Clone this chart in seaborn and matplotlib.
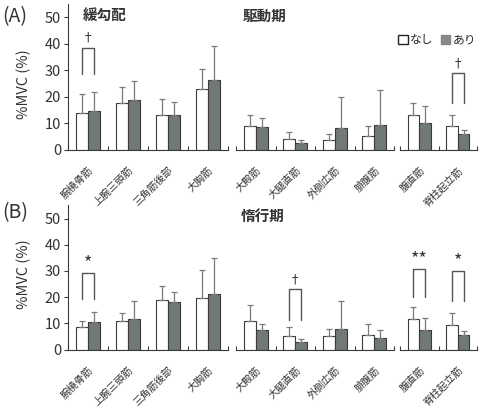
import numpy as np
import pandas as pd
import matplotlib
matplotlib.use('Agg')
import matplotlib.pyplot as plt
import matplotlib.transforms as mtrans
import seaborn as sns
from matplotlib.patches import Patch

sns.set_style('white')
plt.rcParams['font.family'] = ['Noto Sans CJK JP', 'DejaVu Sans']

# 筋の分類
upper = ['腕橈骨筋', '上腕三頭筋', '三角筋後部', '大胸筋']
lower = ['大殿筋', '大腿直筋', '外側広筋', '腓腹筋']
trunk = ['腹直筋', '脊柱起立筋']
muscles = upper + lower + trunk
conds = ['なし', 'あり']

# (A) 緩勾配 駆動期  平均と SD (%MVC)
a_nashi = [13.9, 17.6, 13.3, 22.8, 9.0, 4.1, 3.8, 5.3, 13.0, 9.1]
a_nashi_sd = [7.0, 6.2, 5.7, 7.8, 4.3, 2.5, 2.0, 3.8, 4.6, 4.2]
a_ari = [14.8, 18.6, 13.3, 26.2, 8.4, 2.5, 8.2, 9.5, 10.1, 5.9]
a_ari_sd = [7.1, 7.3, 4.7, 13.0, 3.6, 1.0, 11.7, 12.9, 6.4, 1.7]

# (B) 惰行期
b_nashi = [8.5, 10.7, 18.9, 19.8, 10.8, 5.2, 5.2, 5.7, 11.7, 9.4]
b_nashi_sd = [2.3, 3.3, 5.2, 10.6, 6.3, 3.3, 2.8, 4.1, 4.5, 4.5]
b_ari = [10.6, 11.7, 18.2, 21.3, 7.5, 2.9, 7.9, 4.5, 7.5, 5.4]
b_ari_sd = [3.8, 6.8, 3.9, 13.6, 2.3, 1.2, 10.5, 2.8, 4.4, 1.7]

# 有意差 (筋, 脚の下端, 上端, 記号)
a_sig = [('腕橈骨筋', 28.5, 38.5, '†'), ('脊柱起立筋', 17.7, 28.9, '†')]
b_sig = [('腕橈骨筋', 19.1, 29.2, '*'), ('大腿直筋', 11.2, 23.0, '†'),
         ('腹直筋', 20.2, 30.6, '**'), ('脊柱起立筋', 18.5, 30.1, '*')]

gray = '#6e7b78'
edge = '#3a3a3a'
txt = '#333333'


def make_df(nashi, nashi_sd, ari, ari_sd):
    rows = []
    for i, m in enumerate(muscles):
        rows.append((m, 'なし', nashi[i], nashi_sd[i]))
        rows.append((m, 'あり', ari[i], ari_sd[i]))
    return pd.DataFrame(rows, columns=['muscle', 'cond', 'value', 'sd'])


fig = plt.figure(figsize=(4.84, 4.11), dpi=100)
W, H = 484.0, 411.0
xs = [(68, 228), (236, 394), (400, 477)]
rows_px = [(4.2, 149.7), (205.4, 349.5)]
groups = [upper, lower, trunk]
shift = mtrans.ScaledTranslation(5 / 100, 0, fig.dpi_scale_trans)


def panel(df, sig, top, bottom):
    axes = []
    for k, (grp, (x0, x1)) in enumerate(zip(groups, xs)):
        ax = fig.add_axes([x0 / W, 1 - bottom / H, (x1 - x0) / W, (bottom - top) / H])
        sub = df[df.muscle.isin(grp)]
        sns.barplot(data=sub, x='muscle', y='value', hue='cond', order=grp,
                    hue_order=conds, palette={'なし': 'white', 'あり': gray},
                    edgecolor=edge, linewidth=0.8, width=0.6, errorbar=None,
                    legend=False, ax=ax)
        for j, c in enumerate(conds):
            s = sub[sub.cond == c].set_index('muscle').loc[grp]
            xpos = np.arange(len(grp)) + (-0.15 if j == 0 else 0.15)
            ax.errorbar(xpos, s['value'], yerr=[np.zeros(len(grp)), s['sd']],
                        fmt='none', ecolor='#7a7a7a', elinewidth=0.9,
                        capsize=2, capthick=0.9, zorder=1)
        for m, lo, hi, lab in sig:
            if m in grp:
                i = grp.index(m)
                ax.plot([i - 0.15, i - 0.15, i + 0.15, i + 0.15], [lo, hi, hi, lo],
                        color='#555555', lw=1)
                if '*' in lab:
                    ax.text(i, hi + 0.3, lab, ha='center', va='bottom', fontsize=13,
                            color=txt)
                else:
                    ax.text(i, hi + 1.2, lab, ha='center', va='bottom', fontsize=9,
                            color=txt)
        ax.set_xlim(-0.5, len(grp) - 0.5)
        ax.set_ylim(0, 55)
        ax.set_xlabel('')
        ax.set_xticks(range(len(grp)))
        ax.set_xticklabels(grp, rotation=45, ha='right', rotation_mode='anchor',
                           fontsize=7.3, color=txt)
        for lab in ax.get_xticklabels():
            lab.set_transform(lab.get_transform() + shift)
        ax.set_xticks(np.arange(len(grp) + 1) - 0.5, minor=True)
        ax.tick_params(axis='x', which='major', length=0, pad=11)
        ax.tick_params(axis='x', which='minor', direction='in', length=3,
                       width=0.8, color=edge, bottom=True)
        ax.spines['top'].set_visible(False)
        ax.spines['right'].set_visible(False)
        ax.spines['bottom'].set_color(edge)
        if k == 0:
            ax.set_yticks([0, 10, 20, 30, 40, 50])
            ax.tick_params(axis='y', length=3, width=0.8, color=edge, left=True,
                           labelsize=10.5, labelcolor=txt, pad=2)
            ax.spines['left'].set_color(edge)
            ax.set_ylabel('%MVC (%)', fontsize=10.5, color=txt)
        else:
            ax.spines['left'].set_visible(False)
            ax.set_yticks([])
            ax.set_ylabel('')
        ax.patch.set_alpha(0)
        axes.append(ax)
    return axes


axA = panel(make_df(a_nashi, a_nashi_sd, a_ari, a_ari_sd), a_sig, *rows_px[0])
axB = panel(make_df(b_nashi, b_nashi_sd, b_ari, b_ari_sd), b_sig, *rows_px[1])
axA[0].yaxis.set_label_coords(-0.23, 0.45)
axB[0].yaxis.set_label_coords(-0.23, 0.52)

fig.text(2 / W, 1 - 17 / H, '(A)', fontsize=14, va='center', color=txt)
fig.text(2 / W, 1 - 213 / H, '(B)', fontsize=14, va='center', color=txt)
fig.text(83 / W, 1 - 15 / H, '緩勾配', fontsize=10.5, va='center', fontweight='bold', color=txt)
fig.text(243 / W, 1 - 16 / H, '駆動期', fontsize=10.5, va='center', fontweight='bold', color=txt)
fig.text(241 / W, 1 - 216 / H, '惰行期', fontsize=10.5, va='center', fontweight='bold', color=txt)

handles = [Patch(facecolor='white', edgecolor='#222222', linewidth=1),
           Patch(facecolor='#888888', edgecolor='#888888')]
fig.legend(handles, conds, loc='center right', bbox_to_anchor=(482 / W, 1 - 40 / H),
           ncol=2, frameon=False, fontsize=8.5, handlelength=0.8, handleheight=0.8,
           handletextpad=0.2, columnspacing=0.6, borderpad=0)

fig.savefig('out.png', dpi=100)
